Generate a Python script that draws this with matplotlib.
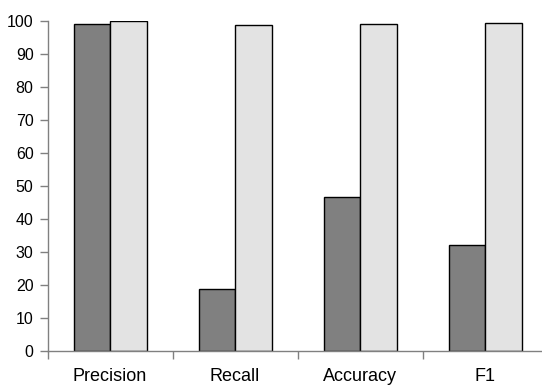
import numpy as np
import matplotlib.pyplot as plt

plt.rcParams['font.family'] = ['Liberation Sans', 'DejaVu Sans']

categories = ["Precision", "Recall", "Accuracy", "F1"]
series_a = [98.9, 18.7, 46.7, 32.1]
series_b = [100.0, 98.6, 98.9, 99.2]

fig = plt.figure(figsize=(5.42, 3.88), dpi=100)
ax = fig.add_axes([47.5 / 542, 37 / 388, 500 / 542, 330.3 / 388])

x = np.arange(len(categories))
w = 0.292
ax.bar(x - w / 2, series_a, w, color="#808080", edgecolor="black", linewidth=1.0)
ax.bar(x + w / 2, series_b, w, color="#e3e3e3", edgecolor="black", linewidth=1.0)

ax.set_xlim(-0.5, len(categories) - 0.5)
ax.set_ylim(0, 100)
ax.set_yticks(range(0, 101, 10))

# category boundaries get the tick marks, names sit between them
ax.set_xticks(np.arange(-0.5, len(categories), 1.0))
ax.set_xticklabels([])
ax.set_xticks(x, minor=True)
ax.set_xticklabels(categories, minor=True, fontsize=13)
ax.tick_params(axis="x", which="minor", length=0, pad=12)
ax.tick_params(axis="x", which="major", length=6, color="#808080", width=1)
ax.tick_params(axis="y", length=6, color="#808080", width=1, labelsize=11.5, pad=4)

for s in ["top", "right"]:
    ax.spines[s].set_visible(False)
for s in ["left", "bottom"]:
    ax.spines[s].set_color("#808080")
    ax.spines[s].set_linewidth(1)

fig.savefig("out.png", dpi=100)
